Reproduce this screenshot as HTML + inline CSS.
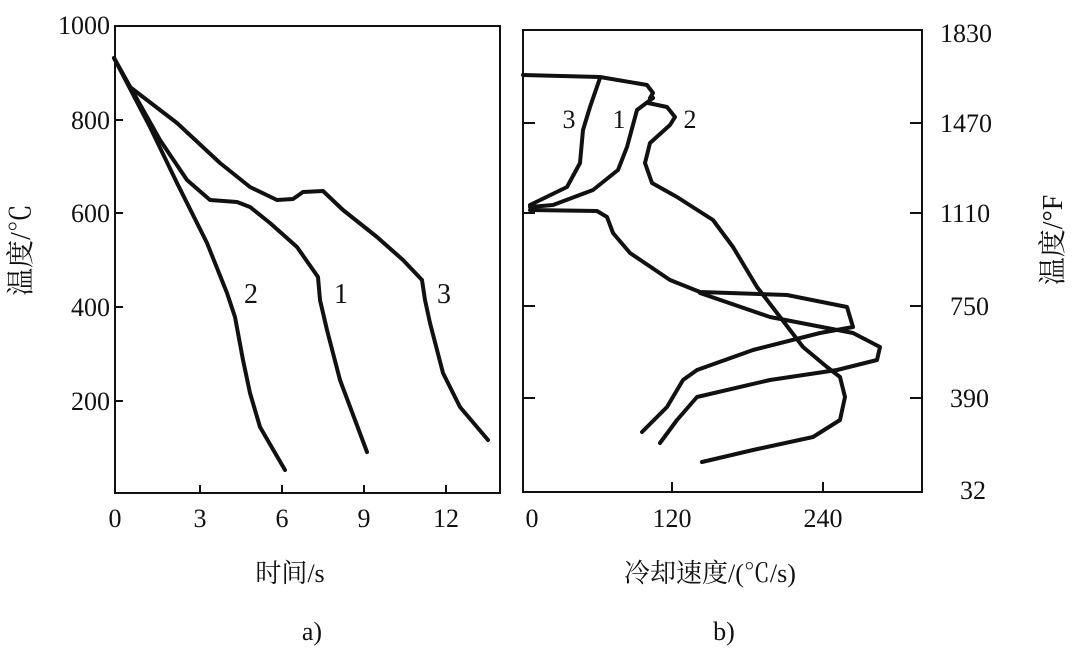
<!DOCTYPE html><html><head><meta charset="utf-8"><style>body{margin:0;background:#fff}svg{display:block}text{font-family:"Liberation Serif","Noto Serif CJK SC",serif;fill:#111}</style></head><body>
<svg width="1080" height="648" viewBox="0 0 1080 648">
<g fill="none" stroke="#111" stroke-width="2">
<rect x="115" y="26" width="385" height="467"/>
<rect x="523" y="30" width="399" height="462"/>
<path d="M115 120h8M115 213h8M115 307h8M115 401h8M200 493v-8M282 493v-8M364 493v-8M446 493v-8"/>
<path d="M523 123h12M523 213h12M523 306h12M523 398h12M922 123h-12M922 213h-12M922 306h-12M922 398h-12M672 492v-10M823 492v-10"/>
</g>
<g fill="none" stroke="#111" stroke-width="4" stroke-linecap="round" stroke-linejoin="round">
<path d="M114 58 L130 87 L177 123 L220 163 L250 187 L277 200 L293 199 L303 192 L323 191 L343 210 L377 237 L403 260 L422 280 L425 300 L430 323 L443 373 L460 407 L488 440"/>
<path d="M114 58 L160 140 L187 180 L210 200 L237 202 L250 207 L270 223 L297 247 L318 277 L320 300 L327 330 L340 380 L367 452"/>
<path d="M114 58 L150 127 L177 183 L207 243 L227 293 L235 317 L243 360 L250 393 L260 427 L285 470"/>
<path d="M523 75 L600 77 L647 85 L653 93 L650 98 L653 98 M648 103 L667 107 L675 117 L670 125 L650 143 L645 163 L652 183 L677 197 L713 220 L733 247 L757 287 L777 313 L803 347 L827 367 L840 377 L845 397 L840 420 L813 437 L753 450 L702 462"/>
<path d="M653 98 L637 110 L627 147 L618 170 L593 190 L553 205 L530 207"/>
<path d="M600 78 L590 107 L583 130 L580 163 L567 187 L530 205"/>
<path d="M530 210 L597 211 L607 217 L613 233 L630 253 L670 280 L700 292 L787 295 L847 307 L853 327 L820 333 L753 350 L697 370 L683 380 L667 407 L642 432"/>
<path d="M700 293 L770 317 L853 333 L880 347 L877 360 L837 370 L770 380 L697 397 L677 420 L660 443"/>
</g>
<g font-size="26">
<g text-anchor="end"><text x="110" y="34">1000</text><text x="110" y="129">800</text><text x="110" y="222">600</text><text x="110" y="316">400</text><text x="110" y="410">200</text></g>
<g text-anchor="middle"><text x="115" y="527">0</text><text x="200" y="527">3</text><text x="282" y="527">6</text><text x="364" y="527">9</text><text x="446" y="527">12</text>
<text x="532" y="527">0</text><text x="672" y="527">120</text><text x="823" y="527">240</text>
<text x="251" y="303" font-size="28">2</text><text x="341" y="303" font-size="28">1</text><text x="444" y="303" font-size="28">3</text>
<text x="569" y="128">3</text><text x="619" y="128">1</text><text x="690" y="128">2</text>
<text x="290" y="582">时间/s</text><text x="710" y="582">冷却速度/(℃/s)</text><text x="312" y="640">a)</text><text x="724" y="640">b)</text></g>
<g text-anchor="start"><text x="940" y="42">1830</text><text x="940" y="132">1470</text><text x="940" y="222">1110</text><text x="950" y="315">750</text><text x="950" y="407">390</text><text x="960" y="499">32</text></g>
<text transform="translate(30,250) rotate(-90)" text-anchor="middle" font-size="28">温度/℃</text>
<text transform="translate(1062,240) rotate(-90)" text-anchor="middle" font-size="28">温度/°F</text>
</g>
</svg></body></html>
